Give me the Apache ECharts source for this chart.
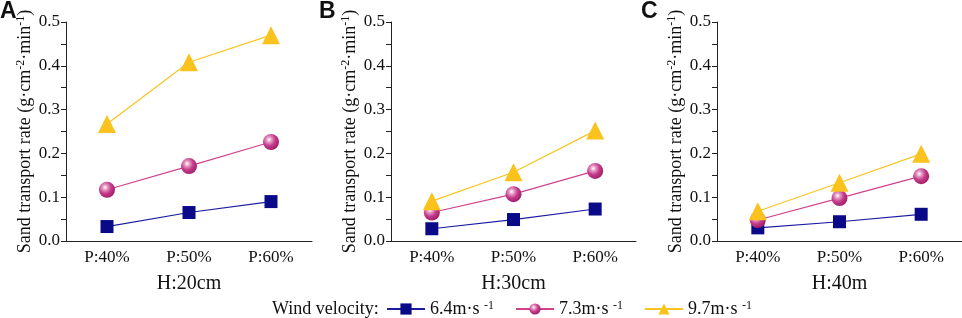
<!DOCTYPE html>
<html>
<head>
<meta charset="utf-8">
<script src="https://cdn.jsdelivr.net/npm/echarts@6/dist/echarts.min.js"></script>
<style>html,body{margin:0;padding:0;background:#fff}#c{width:962px;height:318px}</style>
</head>
<body>
<div id="c"></div>
<script>
const categories = ['P:40%', 'P:50%', 'P:60%'];
const panelLetters = ['A', 'B', 'C'];
const panelTitles = ['H:20cm', 'H:30cm', 'H:40m'];
const seriesNames = ['6.4m·s', '7.3m·s', '9.7m·s'];
// values per panel
const v64 = [[0.033, 0.065, 0.090], [0.028, 0.049, 0.073], [0.030, 0.044, 0.061]];
const v73 = [[0.117, 0.171, 0.226], [0.065, 0.107, 0.160], [0.048, 0.098, 0.148]];
const v97 = [[0.267, 0.408, 0.470], [0.091, 0.157, 0.252], [0.068, 0.133, 0.199]];
const yTicks = [0, 0.1, 0.2, 0.3, 0.4, 0.5];

const FONT = 'Liberation Serif';
const grids = [
  {left: 66, top: 22, width: 246, height: 219},
  {left: 391, top: 22, width: 245, height: 219},
  {left: 717, top: 22, width: 245, height: 219}
];
const lineColors = ['#1c1ca0', '#d0438c', '#f9c420'];
const pinkGrad = {type: 'radial', x: 0.38, y: 0.35, r: 0.65, colorStops: [
  {offset: 0, color: '#ffffff'}, {offset: 0.25, color: '#e69ac6'}, {offset: 0.6, color: '#c43b8a'}, {offset: 1, color: '#a3206a'}]};
const markers = [
  {symbol: 'rect', size: 13, color: '#0a0a88'},
  {symbol: 'circle', size: 16, color: pinkGrad},
  {symbol: 'triangle', size: 18, color: '#f9c21c'}
];
const allVals = [v64, v73, v97];

const xAxes = [], yAxes = [], series = [];
grids.forEach((g, i) => {
  xAxes.push({
    type: 'category', gridIndex: i, data: categories, boundaryGap: true,
    name: panelTitles[i], nameLocation: 'middle', nameGap: 33,
    nameTextStyle: {fontFamily: FONT, fontSize: 20, color: '#111'},
    axisLine: {lineStyle: {color: '#222', width: 1}},
    axisTick: {alignWithLabel: true, length: 5, lineStyle: {color: '#222'}},
    axisLabel: {fontFamily: FONT, fontSize: 17, color: '#111', margin: 8}
  });
  yAxes.push({
    type: 'value', gridIndex: i, min: 0, max: 0.5, interval: 0.1,
    name: 'Sand transport rate (g·cm{sup|-2}·min{sup|-1})', nameLocation: 'middle', nameGap: 27, nameRotate: 90,
    nameTextStyle: {fontFamily: FONT, fontSize: 18, color: '#111', lineHeight: 20,
      rich: {sup: {fontFamily: FONT, fontSize: 12, color: '#111', verticalAlign: 'top', lineHeight: 12}}},
    axisLine: {show: true, lineStyle: {color: '#222', width: 1}},
    axisTick: {show: true, length: 5, lineStyle: {color: '#222'}},
    minorTick: {show: true, splitNumber: 2, length: 5, lineStyle: {color: '#222'}},
    splitLine: {show: false},
    axisLabel: {fontFamily: FONT, fontSize: 17, color: '#111', margin: 6,
      formatter: v => yTicks.includes(Math.round(v * 10) / 10) ? v.toFixed(1) : ''}
  });
  allVals.forEach((vals, s) => {
    series.push({
      type: 'line', name: seriesNames[s], xAxisIndex: i, yAxisIndex: i,
      data: vals[i], symbol: markers[s].symbol, symbolSize: markers[s].size,
      lineStyle: {color: lineColors[s], width: 1.2},
      itemStyle: {color: markers[s].color, borderWidth: 0},
      z: 2 + s
    });
  });
});

const chart = echarts.init(document.getElementById('c'));
chart.setOption({
  animation: false,
  backgroundColor: '#fff',
  color: lineColors,
  grid: grids,
  xAxis: xAxes,
  yAxis: yAxes,
  series: series,
  legend: {
    left: 386, top: 300, itemWidth: 38, itemHeight: 14, itemGap: 21, padding: 0,
    data: seriesNames.map((n, s) => ({name: n, itemStyle: {color: markers[s].color}})),
    formatter: n => n + ' {sup|-1}',
    textStyle: {fontFamily: FONT, fontSize: 18, color: '#111',
      rich: {sup: {fontFamily: FONT, fontSize: 12, color: '#111', verticalAlign: 'top', lineHeight: 10}}}
  },
  graphic: [
    {type: 'text', left: 272, top: 300, style: {text: 'Wind velocity:', font: '18px "Liberation Serif"', fill: '#111'}},
    ...panelLetters.map((t, i) => ({type: 'text', left: [0, 319, 641][i], top: 0,
      style: {text: t, font: 'bold 23px "Liberation Sans"', fill: '#111'}}))
  ]
});
</script>
</body>
</html>
